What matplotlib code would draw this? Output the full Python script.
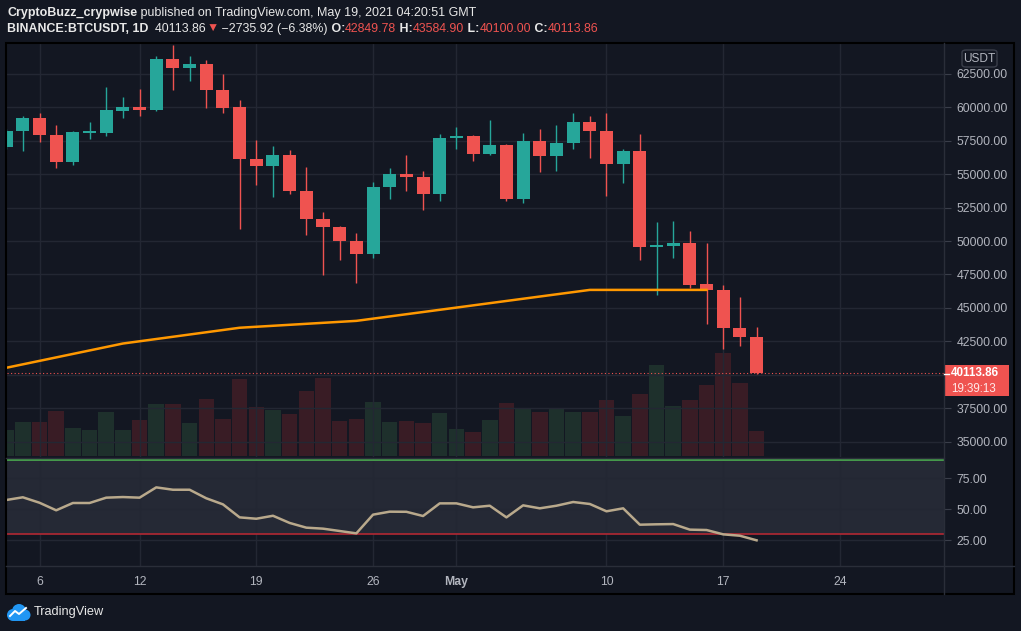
import numpy as np
import pandas as pd
import matplotlib
matplotlib.use('Agg')
import matplotlib.pyplot as plt
import matplotlib.dates as mdates
from matplotlib.patches import Rectangle, FancyBboxPatch, Circle
from matplotlib.lines import Line2D

W, H = 1021, 631
plt.rcParams['font.family'] = ['Liberation Sans', 'DejaVu Sans']

####  Data  ####
dates = pd.date_range('2021-04-04', '2021-05-19', freq='D')

opens = [57021, 58193, 59164, 57917, 55902, 58080, 58066, 59708, 59985, 59761,
         63567, 62896, 63194, 61300, 59985, 56103, 55603, 56402, 53737, 51647,
         51050, 50005, 49035, 54013, 54983, 54782, 53513,
         57671, 57820, 56499, 57148, 53140, 57447, 56350, 57298, 58865, 58216,
         55753, 56700, 49557, 49632, 49834, 46773, 46348, 43512, 42849.78]
highs = [58400, 59313, 59537, 58641, 58193, 58865, 61477, 60731, 61328, 63791,
         64687, 63791, 63493, 62500, 60507, 57521, 57074, 56775, 55506, 52147,
         51100, 50602, 54387, 55431, 56402, 55208, 57969,
         58492, 57900, 59014, 57220, 58044, 58343, 58641, 59537, 59313, 59537,
         56849, 57969, 51401, 51476, 50729, 49834, 46700, 45804, 43584.90]
lows = [56900, 56700, 57395, 55454, 55678, 57619, 57842, 59164, 59313, 59700,
        61253, 61925, 59910, 59537, 50879, 54163, 53289, 53513, 50453, 47467,
        48587, 46870, 48736, 53140, 53737, 52319, 52991,
        56872, 55976, 56425, 52991, 52841, 55155, 55230, 56872, 56200, 53365,
        54334, 48587, 45975, 48736, 46497, 43781, 41915, 42139, 40100.00]
closes = [58193, 59164, 57917, 55902, 58119, 58150, 59761, 59985, 59761, 63567,
          62896, 63194, 61253, 59910, 56103, 55603, 56402, 53737, 51647, 51050,
          50005, 49035, 54013, 54983, 54782, 53513, 57671,
          57820, 56499, 57148, 53140, 57447, 56350, 57298, 58865, 58216, 55753,
          56700, 49557, 49632, 49834, 46721, 46348, 43512, 42849.78, 40113.86]
# volume, thousand BTC
volumes = [33.8, 44.2, 44.2, 58.5, 36.4, 33.8, 57.2, 33.8, 46.8, 67.6,
           67.6, 42.9, 74.1, 48.1, 100.1, 63.7, 59.8, 54.6, 84.5, 101.4,
           45.5, 48.1, 70.2, 44.2, 45.5, 42.9, 55.9,
           35.1, 31.2, 46.8, 68.9, 62.4, 57.2, 61.1, 57.2, 57.2, 72.8,
           52.0, 80.6, 118.3, 65.0, 72.8, 92.3, 133.9, 94.9, 32.5]
rsi = [57.5, 59.7, 55.3, 49.2, 55.1, 55.1, 59.4, 59.9, 59.4, 67.7,
       65.8, 65.8, 58.9, 54.0, 43.5, 42.4, 44.8, 39.0, 35.2, 34.4,
       32.5, 30.6, 45.7, 48.1, 48.0, 44.6, 54.8,
       54.8, 51.6, 52.9, 43.5, 53.2, 50.8, 52.9, 55.9, 54.3, 48.4,
       50.8, 37.6, 37.9, 38.1, 33.6, 33.3, 29.8, 28.7, 25.0]
ma_dates = pd.to_datetime(['2021-04-04', '2021-04-11', '2021-04-18', '2021-04-25',
                           '2021-05-09', '2021-05-16'])
ma_values = [40526, 42340, 43519, 44034, 46348, 46348]

price_ticks = list(range(35000, 62501, 2500))
rsi_ticks = [25, 50, 75]
time_ticks = pd.to_datetime(['2021-04-06', '2021-04-12', '2021-04-19', '2021-04-26',
                             '2021-05-01', '2021-05-10', '2021-05-17', '2021-05-24'])
time_labels = ['6', '12', '19', '26', 'May', '10', '17', '24']
################

BG = '#131722'
GRID = '#232733'
UP = '#26a69a'
DOWN = '#ef5350'
TXT = '#b2b5be'


def fx(x):
    return x / W


def fy(y):
    return 1 - y / H


def rect(l, t, r, b):
    return [fx(l), fy(b), fx(r) - fx(l), fy(t) - fy(b)]


fig = plt.figure(figsize=(W / 100, H / 100), dpi=100, facecolor=BG)

t = mdates.date2num(dates)
t0 = mdates.date2num(pd.Timestamp('2021-04-04'))
xlim = (t0 + 0.02, t0 + 56.24)

o = np.array(opens); h = np.array(highs); l = np.array(lows); c = np.array(closes)
up = c >= o
cols = np.where(up, UP, DOWN)
vcols = np.where(up, '#1e302c', '#391c25')

#### volume pane (behind price) ####
main_rect = rect(6.5, 43.5, 944, 457)
vax = fig.add_axes(main_rect)
vax.set_facecolor(BG)
vax.bar(t, volumes, width=0.93, color=vcols, lw=0)
vax.set_xlim(*xlim)
vax.set_ylim(-1.3, 413 * 1.3)
vax.set_xticks([]); vax.set_yticks([])
for s in vax.spines.values():
    s.set_visible(False)

#### price pane ####
ax = fig.add_axes(main_rect)
ax.patch.set_visible(False)
ax.vlines(t, l, h, colors=cols, lw=1.0, zorder=3)
body_lo = np.minimum(o, c)
body_h = np.maximum(np.abs(c - o), 120)
ax.bar(t, body_h, bottom=body_lo, width=0.78, color=cols, lw=0, zorder=4)
ax.plot(mdates.date2num(ma_dates), ma_values, color='#ff9800', lw=1.8, zorder=5)
ax.axhline(closes[-1], color=DOWN, lw=0.8, ls=(0, (1, 2.2)), zorder=2)
ax.set_xlim(*xlim)
ax.set_ylim(33860, 64762)
ax.yaxis.tick_right()
ax.set_yticks(price_ticks)
# the 40000 label sits under the last-price tag
ax.set_yticklabels(['' if abs(v - closes[-1]) < 1000 else '%.2f' % v for v in price_ticks])
ax.set_xticks(mdates.date2num(time_ticks))
ax.set_xticklabels([])
ax.tick_params(axis='y', length=5, color='#3a3e4a', labelcolor=TXT, labelsize=8.8, pad=4)
ax.tick_params(axis='x', length=0)
ax.grid(True, color=GRID, lw=1, zorder=0)
ax.set_axisbelow(True)
for s in ax.spines.values():
    s.set_visible(False)

#### RSI pane ####
rax = fig.add_axes(rect(6.5, 458, 944, 566))
rax.set_facecolor(BG)
rax.axhspan(30, 90, color='#252935', lw=0, zorder=0)
rax.axhline(90, color='#4caf50', lw=1.2, zorder=2)
rax.axhline(30, color='#b22833', lw=1.2, zorder=2)
rax.plot(t, rsi, color='#b9a98c', lw=1.8, zorder=3)
rax.set_xlim(*xlim)
rax.set_ylim(4.27, 91.4)
rax.yaxis.tick_right()
rax.set_yticks(rsi_ticks)
rax.set_yticklabels(['%.2f' % v for v in rsi_ticks])
rax.set_xticks(mdates.date2num(time_ticks))
rax.set_xticklabels(time_labels)
for lab in rax.get_xticklabels():
    if lab.get_text() == 'May':
        lab.set_fontweight('bold')
rax.tick_params(axis='y', length=5, color='#3a3e4a', labelcolor=TXT, labelsize=8.8, pad=4)
rax.tick_params(axis='x', length=0, labelcolor=TXT, labelsize=8.8, pad=7)
rax.grid(True, color=GRID, lw=1, zorder=1)
rax.set_axisbelow(True)
for s in rax.spines.values():
    s.set_visible(False)

#### frame lines ####
lines = [([944, 944], [43, 594], '#2a2e39'),
         ([6, 1014], [566, 566], '#2a2e39'),
         ([6, 944], [457.5, 457.5], '#2a2e39')]
for xs, ys, col in lines:
    fig.add_artist(Line2D([fx(v) for v in xs], [fy(v) for v in ys], color=col, lw=1))
fig.add_artist(Rectangle((fx(6), fy(594)), fx(1014) - fx(6), fy(43) - fy(594),
                         transform=fig.transFigure, fill=False, ec='black', lw=1.5))

#### USDT box ####
fig.add_artist(FancyBboxPatch((fx(962), fy(67)), fx(35), 17 / H,
                              boxstyle='round,pad=0,rounding_size=0.004',
                              transform=fig.transFigure, fc=BG, ec='#3a3e4a', lw=1))
fig.text(fx(979.5), fy(58.5), 'USDT', color=TXT, fontsize=8.6, ha='center', va='center')

#### last price label ####
fig.add_artist(Rectangle((fx(944), fy(396)), fx(65), 31 / H, transform=fig.transFigure,
                         fc=DOWN, ec='none'))
fig.add_artist(Line2D([fx(944), fx(949)], [fy(373.5), fy(373.5)], color='white', lw=1))
fig.text(fx(951), fy(373), '%.2f' % closes[-1], color='white', fontsize=8.4,
         fontweight='bold', ha='left', va='center')
fig.text(fx(951), fy(389), '19:39:13', color='#ffe8e8', fontsize=8.4, ha='left', va='center')

#### header ####
renderer = fig.canvas.get_renderer()


def write_line(pieces, x0, y, target):
    size = 10
    for attempt in range(2):
        objs = []
        x = x0
        for txt, col, wt in pieces:
            tt = fig.text(fx(x), fy(y), txt, color=col, fontsize=size, fontweight=wt,
                          ha='left', va='center')
            x += tt.get_window_extent(renderer=renderer).width
            objs.append(tt)
        if attempt == 0:
            size = size * (target - x0) / (x - x0)
            for tt in objs:
                tt.remove()


WH = '#e8e8e8'
write_line([('CryptoBuzz_crypwise', WH, 'bold'),
            (' published on TradingView.com, May 19, 2021 04:20:51 GMT', WH, 'normal')],
           7, 13, 476)
write_line([('BINANCE:BTCUSDT, 1D', WH, 'bold'),
            ('  40113.86', WH, 'normal'),
            ('\u25bc', DOWN, 'normal'),
            (' \u22122735.92 (\u22126.38%)', WH, 'normal'),
            (' O:', WH, 'bold'), ('42849.78', DOWN, 'normal'),
            (' H:', WH, 'bold'), ('43584.90', DOWN, 'normal'),
            (' L:', WH, 'bold'), ('40100.00', DOWN, 'normal'),
            (' C:', WH, 'bold'), ('40113.86', DOWN, 'normal')],
           7, 29, 599)

#### logo ####
lax = fig.add_axes(rect(6, 601, 31, 623))
lax.set_xlim(0, 25); lax.set_ylim(0, 22)
lax.set_aspect('equal')
lax.axis('off')
for (cx, cy, rr) in [(7, 8, 6), (13, 12, 7), (19, 8, 5.5)]:
    lax.add_patch(Circle((cx, cy), rr, color='#2196f3', lw=0))
lax.add_patch(Rectangle((7, 2), 12, 6, color='#2196f3', lw=0))
lax.plot([4, 9, 13, 20], [7, 12, 9, 15], color='white', lw=1.4)
fig.text(fx(34), fy(612), 'TradingView', color='#e8e8e8', fontsize=9.2, ha='left', va='center')

fig.savefig('out.png', dpi=100, facecolor=BG)
